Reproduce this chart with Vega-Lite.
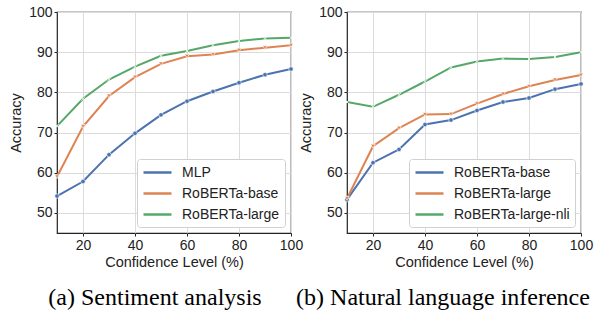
{
  "$schema": "https://vega.github.io/schema/vega-lite/v6.json",
  "background": "white",
  "padding": {"left": 8, "top": 4, "right": 4, "bottom": 0},
  "spacing": -12,
  "datasets": {
    "a": [
      {"conf": 10, "model": "MLP", "acc": 54.2}, {"conf": 20, "model": "MLP", "acc": 57.8}, {"conf": 30, "model": "MLP", "acc": 64.5}, {"conf": 40, "model": "MLP", "acc": 69.8}, {"conf": 50, "model": "MLP", "acc": 74.4}, {"conf": 60, "model": "MLP", "acc": 77.8}, {"conf": 70, "model": "MLP", "acc": 80.2}, {"conf": 80, "model": "MLP", "acc": 82.4}, {"conf": 90, "model": "MLP", "acc": 84.4}, {"conf": 100, "model": "MLP", "acc": 85.8},
      {"conf": 10, "model": "RoBERTa-base", "acc": 59.0}, {"conf": 20, "model": "RoBERTa-base", "acc": 71.5}, {"conf": 30, "model": "RoBERTa-base", "acc": 79.1}, {"conf": 40, "model": "RoBERTa-base", "acc": 83.8}, {"conf": 50, "model": "RoBERTa-base", "acc": 87.1}, {"conf": 60, "model": "RoBERTa-base", "acc": 89.0}, {"conf": 70, "model": "RoBERTa-base", "acc": 89.4}, {"conf": 80, "model": "RoBERTa-base", "acc": 90.5}, {"conf": 90, "model": "RoBERTa-base", "acc": 91.1}, {"conf": 100, "model": "RoBERTa-base", "acc": 91.7},
      {"conf": 10, "model": "RoBERTa-large", "acc": 71.6}, {"conf": 20, "model": "RoBERTa-large", "acc": 78.4}, {"conf": 30, "model": "RoBERTa-large", "acc": 83.2}, {"conf": 40, "model": "RoBERTa-large", "acc": 86.4}, {"conf": 50, "model": "RoBERTa-large", "acc": 89.1}, {"conf": 60, "model": "RoBERTa-large", "acc": 90.3}, {"conf": 70, "model": "RoBERTa-large", "acc": 91.7}, {"conf": 80, "model": "RoBERTa-large", "acc": 92.8}, {"conf": 90, "model": "RoBERTa-large", "acc": 93.4}, {"conf": 100, "model": "RoBERTa-large", "acc": 93.6}
    ],
    "b": [
      {"conf": 10, "model": "RoBERTa-base", "acc": 53.3}, {"conf": 20, "model": "RoBERTa-base", "acc": 62.5}, {"conf": 30, "model": "RoBERTa-base", "acc": 65.8}, {"conf": 40, "model": "RoBERTa-base", "acc": 72.0}, {"conf": 50, "model": "RoBERTa-base", "acc": 73.1}, {"conf": 60, "model": "RoBERTa-base", "acc": 75.5}, {"conf": 70, "model": "RoBERTa-base", "acc": 77.6}, {"conf": 80, "model": "RoBERTa-base", "acc": 78.6}, {"conf": 90, "model": "RoBERTa-base", "acc": 80.8}, {"conf": 100, "model": "RoBERTa-base", "acc": 82.1},
      {"conf": 10, "model": "RoBERTa-large", "acc": 53.6}, {"conf": 20, "model": "RoBERTa-large", "acc": 66.6}, {"conf": 30, "model": "RoBERTa-large", "acc": 71.1}, {"conf": 40, "model": "RoBERTa-large", "acc": 74.5}, {"conf": 50, "model": "RoBERTa-large", "acc": 74.6}, {"conf": 60, "model": "RoBERTa-large", "acc": 77.2}, {"conf": 70, "model": "RoBERTa-large", "acc": 79.6}, {"conf": 80, "model": "RoBERTa-large", "acc": 81.5}, {"conf": 90, "model": "RoBERTa-large", "acc": 83.1}, {"conf": 100, "model": "RoBERTa-large", "acc": 84.3},
      {"conf": 10, "model": "RoBERTa-large-nli", "acc": 77.6}, {"conf": 20, "model": "RoBERTa-large-nli", "acc": 76.4}, {"conf": 30, "model": "RoBERTa-large-nli", "acc": 79.4}, {"conf": 40, "model": "RoBERTa-large-nli", "acc": 82.7}, {"conf": 50, "model": "RoBERTa-large-nli", "acc": 86.2}, {"conf": 60, "model": "RoBERTa-large-nli", "acc": 87.7}, {"conf": 70, "model": "RoBERTa-large-nli", "acc": 88.4}, {"conf": 80, "model": "RoBERTa-large-nli", "acc": 88.3}, {"conf": 90, "model": "RoBERTa-large-nli", "acc": 88.8}, {"conf": 100, "model": "RoBERTa-large-nli", "acc": 90.0}
    ]
  },
  "hconcat": [
    {
      "width": 234, "height": 221,
      "title": {"text": "(a)  Sentiment analysis", "orient": "bottom", "dx": -19},
      "data": {"name": "a"},
      "encoding": {
        "x": {"field": "conf", "type": "quantitative", "scale": {"domain": [10, 100], "nice": false}, "title": "Confidence Level (%)", "axis": {"values": [20, 40, 60, 80, 100]}},
        "y": {"field": "acc", "type": "quantitative", "scale": {"domain": [45, 100], "nice": false}, "title": "Accuracy", "axis": {"values": [50, 60, 70, 80, 90, 100]}}
      },
      "layer": [
        {"mark": {"type": "line", "strokeWidth": 2}, "encoding": {"color": {"field": "model", "type": "nominal", "scale": {"domain": ["MLP", "RoBERTa-base", "RoBERTa-large"], "range": ["#4c72b0", "#dd8452", "#55a868"]}, "legend": {"title": null}}}},
        {"transform": [{"filter": "datum.model === 'MLP'"}], "mark": {"type": "point", "shape": "circle", "filled": true, "fill": "#4c72b0", "stroke": "white", "strokeWidth": 0.6, "size": 20, "opacity": 1}, "encoding": {}},
        {"transform": [{"filter": "datum.model === 'RoBERTa-base'"}], "mark": {"type": "point", "shape": "triangle-down", "filled": true, "fill": "#dd8452", "stroke": "white", "strokeWidth": 0.6, "size": 20, "opacity": 1}, "encoding": {}},
        {"transform": [{"filter": "datum.model === 'RoBERTa-large'"}], "mark": {"type": "point", "shape": "M-1,-1L1,1M-1,1L1,-1", "filled": false, "stroke": "white", "strokeWidth": 0.8, "size": 16, "opacity": 1}, "encoding": {}}
      ]
    },
    {
      "width": 234, "height": 221,
      "title": {"text": "(b)  Natural language inference", "orient": "bottom", "dx": -21},
      "data": {"name": "b"},
      "encoding": {
        "x": {"field": "conf", "type": "quantitative", "scale": {"domain": [10, 100], "nice": false}, "title": "Confidence Level (%)", "axis": {"values": [20, 40, 60, 80, 100]}},
        "y": {"field": "acc", "type": "quantitative", "scale": {"domain": [45, 100], "nice": false}, "title": "Accuracy", "axis": {"values": [50, 60, 70, 80, 90, 100]}}
      },
      "layer": [
        {"mark": {"type": "line", "strokeWidth": 2}, "encoding": {"color": {"field": "model", "type": "nominal", "scale": {"domain": ["RoBERTa-base", "RoBERTa-large", "RoBERTa-large-nli"], "range": ["#4c72b0", "#dd8452", "#55a868"]}, "legend": {"title": null}}}},
        {"transform": [{"filter": "datum.model === 'RoBERTa-base'"}], "mark": {"type": "point", "shape": "circle", "filled": true, "fill": "#4c72b0", "stroke": "white", "strokeWidth": 0.6, "size": 20, "opacity": 1}, "encoding": {}},
        {"transform": [{"filter": "datum.model === 'RoBERTa-large'"}], "mark": {"type": "point", "shape": "triangle-down", "filled": true, "fill": "#dd8452", "stroke": "white", "strokeWidth": 0.6, "size": 20, "opacity": 1}, "encoding": {}},
        {"transform": [{"filter": "datum.model === 'RoBERTa-large-nli'"}], "mark": {"type": "point", "shape": "M-1,-1L1,1M-1,1L1,-1", "filled": false, "stroke": "white", "strokeWidth": 0.8, "size": 16, "opacity": 1}, "encoding": {}}
      ]
    }
  ],
  "resolve": {"scale": {"color": "independent", "x": "independent", "y": "independent"}, "legend": {"color": "independent"}},
  "config": {
    "font": "Liberation Sans",
    "view": {"stroke": "#222222", "strokeWidth": 1.2},
    "axis": {
      "domain": false, "grid": true, "gridColor": "#dcdcdc", "gridWidth": 1,
      "ticks": true, "tickColor": "#222222", "tickSize": 3,
      "labelFont": "Liberation Sans", "labelFontSize": 14, "labelColor": "#222222", "labelPadding": 2,
      "titleFont": "Liberation Sans", "titleFontSize": 14.5, "titleFontWeight": "normal", "titleColor": "#222222"
    },
    "axisX": {"titlePadding": 3, "labelFlush": false},
    "axisY": {"titlePadding": 5},
    "legend": {
      "orient": "bottom-right", "offset": 6,
      "fillColor": "white", "strokeColor": "#d0d0d0", "cornerRadius": 3, "padding": 5,
      "labelFont": "Liberation Sans", "labelFontSize": 14, "labelColor": "#222222",
      "symbolType": "M-1,0L3,0", "symbolSize": 196, "symbolStrokeWidth": 2.5, "rowPadding": 5, "labelOffset": 23
    },
    "title": {"font": "Liberation Serif", "fontSize": 24, "fontWeight": "normal", "color": "black", "offset": 17, "anchor": "middle"}
  }
}
